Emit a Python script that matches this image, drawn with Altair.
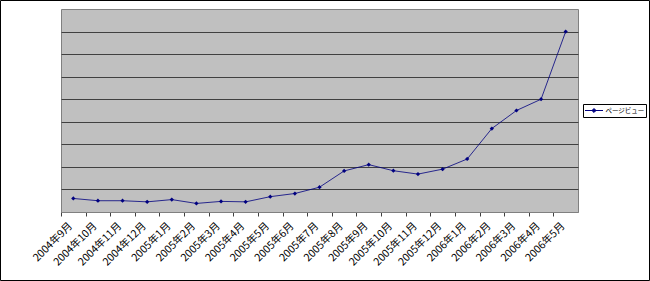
import altair as alt
import pandas as pd

months = ["2004年9月", "2004年10月", "2004年11月", "2004年12月", "2005年1月", "2005年2月",
          "2005年3月", "2005年4月", "2005年5月", "2005年6月", "2005年7月", "2005年8月",
          "2005年9月", "2005年10月", "2005年11月", "2005年12月", "2006年1月", "2006年2月",
          "2006年3月", "2006年4月", "2006年5月"]
pageviews = [0.6, 0.5, 0.5, 0.45, 0.55, 0.38, 0.47, 0.45, 0.68, 0.82, 1.1, 1.82,
             2.1, 1.83, 1.68, 1.9, 2.35, 3.7, 4.5, 5.0, 8.0]
series_name = "ページビュー"
grid_values = [1, 2, 3, 4, 5, 6, 7, 8]

df = pd.DataFrame({"month": months, "pv": pageviews, "series": [series_name] * len(months)})

W, H = 517, 203
band = W / len(months)

x = alt.X("month:N", sort=months, title=None,
          scale=alt.Scale(paddingInner=0, paddingOuter=0),
          axis=alt.Axis(labelAngle=-45, labelAlign="right", labelBaseline="middle",
                        labelFont="Noto Sans CJK JP", labelFontSize=10.5, labelColor="#000000",
                        tickColor="#404040", tickSize=4, tickOffset=-band / 2,
                        labelOffset=band / 2 - 3, labelPadding=8,
                        domainColor="#808080", grid=False, labelOverlap=False))
y = alt.Y("pv:Q", title=None,
          scale=alt.Scale(domain=[0, 9], nice=False, zero=True),
          axis=alt.Axis(values=grid_values, labels=False, ticks=False, domain=False,
                        grid=True, gridColor="#404040", gridWidth=1))

line = alt.Chart(df).mark_line(
    strokeWidth=1, strokeOpacity=0.8,
    point=alt.OverlayMarkDef(shape="diamond", size=18, filled=True, color="#000080", opacity=1),
).encode(
    x=x, y=y,
    color=alt.Color("series:N", scale=alt.Scale(domain=[series_name], range=["#000080"]),
                    legend=alt.Legend(title=None, orient="none", legendX=522, legendY=95,
                                      symbolType="M-1,0L3,0M1,-0.45L1.45,0L1,0.45L0.55,0Z",
                                      symbolSize=81, symbolStrokeWidth=1,
                                      symbolFillColor="#000080",
                                      labelFont="Noto Sans CJK JP", labelFontSize=6.5,
                                      labelColor="#000000", labelOffset=11,
                                      strokeColor="#000000", fillColor="#ffffff",
                                      padding=1.5)),
)

frame = alt.Chart(alt.Data(values=[{"a": 1}])).mark_rect(
    fill=None, stroke="#000000", strokeWidth=1
).encode(
    x=alt.value(-60.5), x2=alt.value(649.5 - 61),
    y=alt.value(-8.5), y2=alt.value(280.5 - 9),
)

chart = alt.layer(line, frame).properties(
    width=W, height=H,
    autosize=alt.AutoSizeParams(type="none"),
    padding={"left": 61, "top": 9, "right": 650 - 61 - W, "bottom": 281 - 9 - H},
    background="#ffffff",
).configure_view(fill="#c0c0c0", stroke="#808080", strokeWidth=1)

chart.save("out.html", embed_options={"renderer": "svg", "actions": False})
